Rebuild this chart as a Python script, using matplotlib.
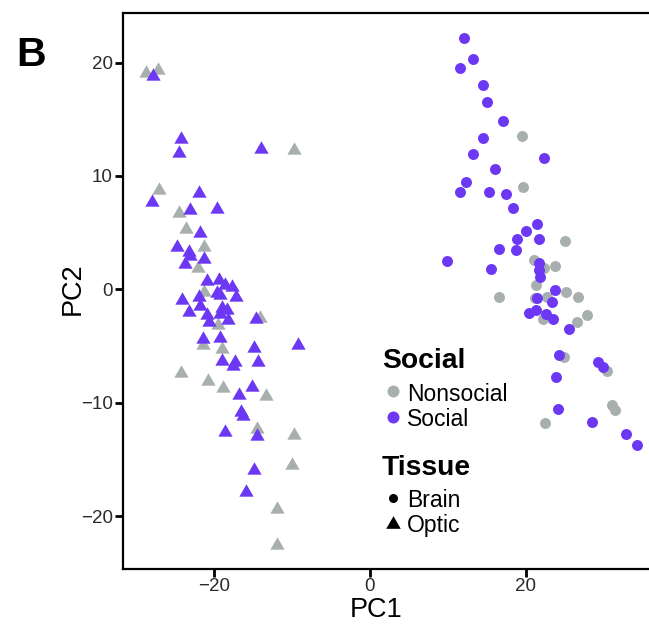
import matplotlib
matplotlib.use("Agg")
import matplotlib.pyplot as plt
from matplotlib.lines import Line2D
import numpy as np

plt.rcParams['font.family'] = ['Liberation Sans', 'DejaVu Sans']

# ---- data (PC1, PC2) ----
optic_nonsocial_x = [-28.76, -27.14, -9.74, -27.05, -24.45, -23.59, -21.28, -22.09, -21.28, -14.10,
                     -19.49, -21.45, -18.94, -24.27, -20.73, -18.88, -13.33, -14.53, -9.71, -10.00,
                     -11.96, -11.96]
optic_nonsocial_y = [19.26, 19.54, 12.49, 8.96, 6.93, 5.52, 3.91, 2.05, -0.06, -2.31,
                     -3.00, -4.76, -5.11, -7.20, -7.91, -8.53, -9.23, -12.12, -12.65, -15.34,
                     -19.22, -22.35]

optic_social_x = [-27.78, -24.23, -24.45, -14.01, -27.91, -21.92, -23.08, -19.58, -21.76, -24.71,
                  -23.21, -23.08, -23.72, -21.28, -20.86, -19.36, -18.59, -17.73, -19.65, -19.23,
                  -17.18, -24.14, -21.86, -21.76, -18.91, -19.23, -18.37, -23.17, -20.94, -18.17,
                  -20.60, -14.62, -21.45, -19.23, -14.83, -9.19, -19.01, -17.31, -17.53, -14.32,
                  -15.17, -16.76, -16.54, -16.32, -18.59, -14.53, -14.87, -15.90]
optic_social_y = [18.99, 13.40, 12.22, 12.57, 7.87, 8.67, 7.17, 7.26, 5.14, 3.91,
                  3.47, 3.09, 2.43, 2.82, 0.88, 0.97, 0.56, 0.41, -0.11, -0.35,
                  -0.50, -0.77, -0.50, -1.30, -1.43, -1.98, -1.68, -1.83, -2.12, -2.57,
                  -2.71, -2.44, -4.18, -4.12, -5.00, -4.76, -6.17, -6.23, -6.61, -6.23,
                  -8.44, -9.17, -10.64, -11.02, -12.41, -12.79, -15.78, -17.70]

brain_nonsocial_x = [19.53, 19.65, 25.04, 21.03, 22.31, 23.68, 21.28, 25.13, 26.71, 16.58,
                     21.15, 22.65, 22.14, 26.50, 27.78, 24.91, 30.35, 30.99, 31.41, 22.44]
brain_nonsocial_y = [13.52, 8.99, 4.23, 2.58, 1.85, 2.08, 0.38, -0.24, -0.68, -0.68,
                     -0.77, -0.65, -2.62, -2.88, -2.24, -6.00, -7.20, -10.20, -10.64, -11.82]

brain_social_x = [12.09, 13.17, 11.58, 14.49, 14.96, 17.05, 14.49, 13.24, 22.31, 16.03,
                  12.27, 11.58, 15.29, 17.40, 18.33, 21.37, 20.04, 18.85, 21.67, 16.58,
                  18.68, 9.83, 15.47, 21.69, 21.69, 21.76, 23.74, 21.37, 23.33, 20.42,
                  21.22, 22.56, 23.42, 25.54, 24.27, 29.27, 29.91, 23.85, 24.14, 28.42,
                  32.82, 34.27]
brain_social_y = [22.13, 20.28, 19.49, 17.99, 16.49, 14.87, 13.32, 11.90, 11.60, 10.58,
                  9.46, 8.58, 8.58, 8.40, 7.17, 5.78, 5.14, 4.46, 4.44, 3.55,
                  3.45, 2.48, 1.83, 2.29, 1.70, 1.06, -0.06, -0.77, -1.09, -2.05,
                  -1.83, -2.18, -2.65, -3.47, -5.79, -6.38, -6.83, -7.76, -10.58, -11.73,
                  -12.79, -13.73]

x_ticks = [-20, 0, 20]
y_ticks = [-20, -10, 0, 10, 20]
social_labels = ["Nonsocial", "Social"]
tissue_labels = ["Brain", "Optic"]

GRAY = '#A8AFAF'
PURPLE = '#6C38F4'
TXT = '#2B2B2B'

W, H = 649, 630
fig = plt.figure(figsize=(W / 100, H / 100), dpi=100)

def fx(px):
    return px / W

def fy(py):
    return 1 - py / H

ax = fig.add_axes([fx(122.7), fy(568.5), fx(658.6) - fx(122.7), fy(13.3) - fy(568.5)])

tri = [(0, 0.75), (-0.866, -0.75), (0.866, -0.75)]

ax.scatter(brain_nonsocial_x, brain_nonsocial_y, s=7.9 ** 2, marker='o', color=GRAY, linewidths=0, zorder=2)
ax.scatter(optic_nonsocial_x, optic_nonsocial_y, s=10.3 ** 2, marker=tri, color=GRAY, linewidths=0, zorder=2)
ax.scatter(brain_social_x, brain_social_y, s=7.9 ** 2, marker='o', color=PURPLE, linewidths=0, zorder=3)
ax.scatter(optic_social_x, optic_social_y, s=10.3 ** 2, marker=tri, color=PURPLE, linewidths=0, zorder=3)

ax.set_xlim(-31.7, 37.0)
ax.set_ylim(-24.62, 24.34)
ax.set_xticks(x_ticks)
ax.set_yticks(y_ticks)
ax.set_xticklabels(['\u221220', '0', '20'])
ax.set_yticklabels(['\u221220', '\u221210', '0', '10', '20'])
ax.tick_params(axis='both', length=5.5, width=2, color='black', labelsize=13.5, labelcolor=TXT, pad=1.5)
for sp in ax.spines.values():
    sp.set_linewidth(1.6)
    sp.set_color('black')

ax.set_xlabel('PC1', fontsize=19.5, color='black', va='center', ha='center')
ax.xaxis.set_label_coords(0.4727, -0.0748)
ax.set_ylabel('PC2', fontsize=19.5, color='black', va='center', ha='center', rotation=90)
ax.yaxis.set_label_coords(-0.0927, 0.5034)

# panel letter
fig.text(fx(31), fy(55), 'B', fontsize=29.5, fontweight='bold', ha='center', va='center')

# legends (drawn as figure-level key)
fig.text(fx(381.7), fy(367.5), 'Social', fontsize=20.3, fontweight='bold', ha='left', va='baseline')
social_cols = [GRAY, PURPLE]
social_marker_y = [390.7, 416.7]
social_text_y = [401.0, 426.0]
for lab, col, my, ty in zip(social_labels, social_cols, social_marker_y, social_text_y):
    fig.add_artist(Line2D([fx(393.3)], [fy(my)], marker='o', markersize=8.6, color=col,
                          markeredgewidth=0, linestyle='none', transform=fig.transFigure))
    fig.text(fx(407), fy(ty), lab, fontsize=16.5, ha='left', va='baseline')

fig.text(fx(381.7), fy(475), 'Tissue', fontsize=20.3, fontweight='bold', ha='left', va='baseline')
tissue_markers = ['o', tri]
tissue_sizes = [6.5, 10.5]
tissue_marker_y = [498.3, 521.7]
tissue_text_y = [507.3, 531.7]
for lab, mk, ms, my, ty in zip(tissue_labels, tissue_markers, tissue_sizes, tissue_marker_y, tissue_text_y):
    fig.add_artist(Line2D([fx(393.3)], [fy(my)], marker=mk, markersize=ms, color='black',
                          markeredgewidth=0, linestyle='none', transform=fig.transFigure))
    fig.text(fx(407), fy(ty), lab, fontsize=16.5, ha='left', va='baseline')

fig.savefig('out.png', dpi=100)
